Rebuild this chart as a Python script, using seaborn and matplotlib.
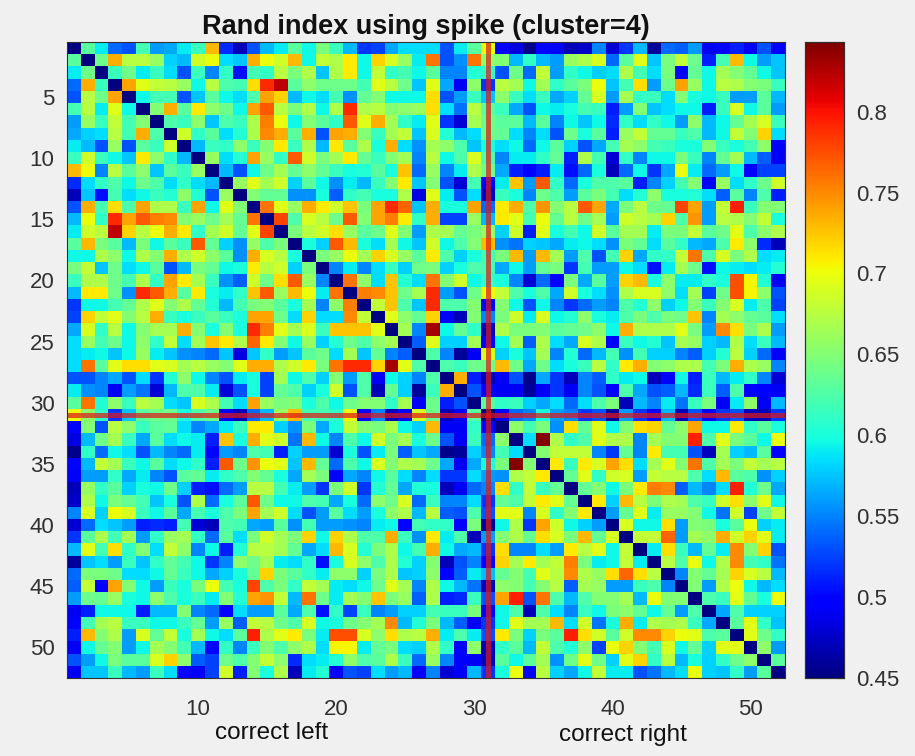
import numpy as np
import pandas as pd
import seaborn as sns
import matplotlib
matplotlib.use("Agg")
import matplotlib.pyplot as plt

# Upper triangle of the symmetric matrix: each list holds row r, columns r+1..52
r01 = [.63,.59,.54,.53,.62,.56,.565,.59,.615,.73,.515,.47,.53,.57,.59,.63,.595,.645,.615,.57,.52,.525,.565,.585,.585,.585,.53,.59,.63,.70,.50,.485,.455,.50,.495,.47,.475,.55,.48,.52,.57,.46,.54,.535,.56,.49,.50,.51,.49,.53,.49]
r02 = [.64,.735,.675,.675,.66,.58,.57,.685,.70,.585,.575,.735,.70,.685,.73,.595,.68,.67,.71,.595,.72,.69,.66,.59,.76,.53,.555,.76,.655,.65,.57,.61,.57,.56,.66,.67,.69,.54,.63,.695,.575,.645,.68,.64,.51,.62,.73,.595,.56,.575]
r03 = [.615,.64,.59,.615,.585,.53,.615,.55,.61,.505,.62,.61,.675,.645,.67,.575,.67,.71,.595,.68,.61,.62,.595,.63,.55,.55,.605,.61,.53,.64,.54,.68,.56,.61,.595,.58,.585,.67,.62,.585,.645,.50,.635,.595,.665,.65,.635,.595,.575]
r04 = [.74,.695,.68,.675,.66,.595,.675,.625,.62,.715,.79,.82,.63,.655,.64,.64,.64,.62,.695,.675,.64,.575,.695,.565,.49,.655,.52,.675,.665,.595,.665,.61,.63,.645,.70,.575,.62,.715,.56,.64,.74,.66,.595,.675,.67,.65,.645,.615]
r05 = [.595,.62,.62,.53,.575,.63,.595,.585,.625,.74,.72,.57,.595,.585,.62,.555,.635,.65,.595,.595,.595,.715,.53,.56,.615,.575,.655,.615,.585,.615,.565,.58,.635,.69,.56,.665,.61,.615,.585,.65,.60,.595,.615,.56,.56,.63,.57]
r06 = [.65,.735,.63,.71,.655,.64,.595,.74,.77,.675,.645,.67,.595,.67,.79,.67,.675,.65,.655,.66,.715,.585,.545,.675,.63,.615,.565,.53,.595,.59,.60,.62,.615,.51,.56,.65,.575,.585,.595,.595,.51,.615,.69,.595,.63,.56]
r07 = [.625,.615,.655,.575,.625,.615,.67,.755,.70,.595,.65,.63,.61,.77,.695,.735,.665,.61,.59,.695,.52,.48,.665,.64,.63,.63,.57,.63,.55,.595,.575,.595,.515,.61,.585,.61,.595,.56,.655,.57,.595,.635,.665,.69,.615]
r08 = [.685,.61,.63,.585,.605,.67,.75,.735,.63,.735,.53,.74,.735,.65,.615,.665,.68,.575,.69,.605,.57,.585,.64,.635,.585,.55,.585,.53,.64,.60,.63,.51,.66,.68,.635,.635,.615,.625,.57,.595,.68,.65,.72,.585]
r09 = [.57,.615,.61,.655,.615,.65,.71,.615,.67,.57,.71,.63,.67,.60,.735,.585,.555,.665,.655,.625,.575,.60,.585,.595,.54,.595,.63,.58,.53,.565,.62,.665,.655,.62,.615,.60,.60,.65,.615,.60,.62,.655,.495]
r10 = [.66,.585,.605,.74,.66,.61,.77,.685,.645,.665,.71,.635,.615,.65,.665,.55,.675,.595,.625,.69,.625,.55,.59,.59,.61,.635,.51,.67,.62,.48,.61,.55,.595,.595,.645,.615,.55,.635,.665,.57,.535,.49]
r11 = [.57,.53,.595,.64,.665,.635,.655,.635,.615,.60,.605,.63,.60,.725,.54,.66,.55,.59,.67,.64,.565,.51,.50,.51,.59,.505,.54,.60,.47,.54,.595,.52,.565,.70,.59,.54,.56,.595,.50,.525,.525]
r12 = [.66,.695,.665,.685,.58,.63,.595,.555,.59,.57,.615,.65,.71,.575,.65,.53,.48,.62,.49,.59,.725,.56,.77,.61,.54,.60,.625,.625,.63,.51,.55,.58,.62,.65,.50,.66,.585,.61,.64,.685]
r13 = [.65,.635,.635,.555,.555,.60,.535,.61,.62,.60,.60,.67,.485,.695,.59,.53,.585,.47,.615,.60,.55,.64,.625,.56,.63,.645,.62,.585,.605,.655,.60,.60,.605,.585,.535,.63,.55,.625,.51]
r14 = [.76,.695,.66,.735,.71,.685,.725,.645,.74,.79,.765,.575,.735,.60,.60,.74,.54,.71,.735,.625,.745,.65,.675,.77,.74,.565,.645,.675,.64,.635,.78,.74,.56,.68,.795,.615,.65,.65]
r15 = [.78,.625,.69,.675,.64,.77,.65,.74,.755,.71,.61,.735,.525,.525,.66,.57,.71,.695,.62,.70,.635,.675,.64,.665,.56,.685,.675,.665,.72,.625,.745,.56,.675,.67,.65,.68,.60]
r16 = [.645,.675,.685,.715,.66,.63,.64,.695,.65,.56,.67,.665,.635,.645,.66,.58,.685,.51,.695,.60,.62,.595,.685,.63,.665,.665,.59,.645,.645,.68,.63,.64,.695,.625,.655,.67]
r17 = [.60,.58,.77,.73,.60,.585,.665,.595,.575,.685,.595,.625,.65,.73,.555,.545,.58,.575,.565,.59,.595,.585,.555,.645,.635,.585,.63,.61,.57,.565,.625,.71,.655,.515,.47]
r18 = [.645,.66,.70,.665,.72,.69,.66,.63,.71,.625,.58,.60,.62,.645,.73,.56,.73,.665,.56,.625,.53,.62,.72,.565,.61,.61,.68,.76,.625,.69,.645,.67,.585,.59]
r19 = [.55,.59,.55,.585,.615,.58,.64,.645,.58,.60,.625,.62,.565,.595,.56,.635,.645,.52,.62,.56,.56,.595,.585,.505,.59,.665,.64,.505,.595,.59,.585,.59,.605]
r20 = [.76,.655,.585,.725,.605,.585,.76,.65,.685,.595,.61,.60,.55,.48,.54,.50,.645,.565,.63,.56,.72,.73,.60,.655,.59,.59,.61,.60,.775,.705,.605,.49]
r21 = [.755,.75,.725,.64,.665,.79,.56,.53,.64,.70,.68,.625,.60,.625,.565,.685,.60,.585,.555,.67,.69,.69,.655,.585,.665,.525,.64,.775,.705,.655,.53]
r22 = [.68,.725,.625,.575,.79,.625,.625,.65,.50,.65,.595,.53,.595,.55,.52,.54,.56,.55,.625,.605,.655,.58,.595,.65,.615,.65,.69,.59,.625,.525]
r23 = [.695,.655,.635,.72,.49,.47,.65,.55,.645,.685,.59,.69,.595,.605,.655,.60,.59,.625,.645,.625,.645,.64,.725,.55,.665,.655,.635,.63,.585]
r24 = [.665,.55,.83,.595,.635,.61,.47,.67,.645,.645,.65,.63,.635,.64,.655,.595,.735,.67,.67,.67,.695,.645,.56,.75,.715,.645,.67,.56]
r25 = [.535,.695,.58,.58,.665,.50,.595,.665,.535,.67,.585,.565,.69,.67,.50,.615,.595,.605,.575,.665,.66,.58,.57,.67,.585,.615,.57]
r26 = [.625,.55,.46,.49,.69,.58,.60,.575,.665,.55,.605,.54,.57,.62,.555,.62,.58,.58,.55,.535,.58,.605,.675,.58,.54,.495]
r27 = [.625,.615,.64,.64,.73,.64,.565,.64,.585,.60,.615,.675,.61,.71,.735,.65,.655,.67,.67,.62,.645,.735,.67,.66,.55]
r28 = [.735,.51,.47,.49,.53,.455,.565,.52,.47,.55,.535,.61,.59,.595,.47,.50,.595,.51,.615,.57,.59,.61,.55,.48]
r29 = [.53,.50,.49,.49,.46,.49,.52,.49,.55,.53,.50,.625,.565,.53,.535,.57,.515,.615,.535,.625,.50,.495,.49]
r30 = [.63,.61,.615,.58,.565,.585,.54,.585,.625,.645,.47,.57,.55,.59,.545,.615,.645,.49,.59,.655,.49,.57]
r31 = [.50,.54,.55,.60,.56,.55,.52,.53,.46,.56,.52,.50,.57,.47,.53,.50,.52,.53,.47,.47,.52]
r32 = [.655,.62,.645,.555,.715,.635,.695,.595,.65,.715,.72,.635,.655,.74,.595,.595,.71,.61,.63,.60]
r33 = [.585,.84,.67,.61,.625,.695,.67,.67,.55,.665,.65,.65,.795,.625,.695,.645,.63,.595,.70]
r34 = [.65,.68,.68,.68,.55,.52,.635,.55,.71,.62,.62,.53,.47,.665,.58,.57,.63,.50]
r35 = [.71,.615,.71,.69,.74,.715,.585,.665,.695,.65,.76,.625,.665,.645,.68,.665,.675]
r36 = [.635,.695,.61,.685,.69,.56,.68,.675,.675,.625,.585,.73,.63,.625,.555,.58]
r37 = [.635,.65,.595,.645,.71,.755,.75,.535,.57,.55,.585,.795,.605,.64,.565]
r38 = [.71,.58,.73,.675,.645,.67,.665,.625,.615,.685,.715,.655,.695,.595]
r39 = [.56,.635,.695,.59,.66,.66,.65,.595,.545,.685,.525,.64,.68]
r40 = [.69,.595,.595,.715,.56,.65,.645,.60,.63,.70,.58,.59]
r41 = [.68,.68,.765,.56,.665,.655,.735,.685,.72,.695,.59]
r42 = [.59,.715,.615,.57,.635,.59,.75,.65,.72,.53]
r43 = [.675,.625,.70,.595,.67,.75,.62,.61,.545]
r44 = [.55,.65,.635,.665,.72,.69,.675,.57]
r45 = [.65,.56,.67,.70,.595,.57,.585]
r46 = [.625,.615,.695,.635,.60,.70]
r47 = [.565,.625,.58,.58,.58]
r48 = [.63,.695,.61,.575]
r49 = [.695,.64,.61]
r50 = [.655,.56]
r51 = [.63]
diagonal_value = 0.45

upper_rows = [r01,r02,r03,r04,r05,r06,r07,r08,r09,r10,r11,r12,r13,r14,r15,r16,r17,
              r18,r19,r20,r21,r22,r23,r24,r25,r26,r27,r28,r29,r30,r31,r32,r33,r34,
              r35,r36,r37,r38,r39,r40,r41,r42,r43,r44,r45,r46,r47,r48,r49,r50,r51]

title_text = "Rand index using spike (cluster=4)"
left_label = "correct left"
right_label = "correct right"
x_ticks = [10, 20, 30, 40, 50]
y_ticks = [5, 10, 15, 20, 25, 30, 35, 40, 45, 50]
cbar_ticks = [0.45, 0.5, 0.55, 0.6, 0.65, 0.7, 0.75, 0.8]
cbar_labels = ["0.45", "0.5", "0.55", "0.6", "0.65", "0.7", "0.75", "0.8"]
marked_trial = 31

n = len(upper_rows) + 1
matrix = np.full((n, n), diagonal_value)
for i, row in enumerate(upper_rows):
    assert len(row) == n - i - 1, (i + 1, len(row))
    matrix[i, i + 1:] = row
    matrix[i + 1:, i] = row
labels = list(range(1, n + 1))
df = pd.DataFrame(matrix, index=labels, columns=labels)

sns.set_theme(style="white")
plt.rcParams["font.family"] = ["Liberation Sans", "DejaVu Sans"]
W, H = 915, 756
BG = "#f0f0f0"
TXT = "#303030"
fig = plt.figure(figsize=(W / 100, H / 100), dpi=100, facecolor=BG)


def box(x0, y0, x1, y1):
    return [x0 / W, 1 - y1 / H, (x1 - x0) / W, (y1 - y0) / H]


ax = fig.add_axes(box(67, 42, 785, 678))
cax = fig.add_axes(box(805, 42, 844, 678))
sns.heatmap(df, ax=ax, cbar_ax=cax, cmap="jet", vmin=0.45, vmax=0.843,
            square=False, xticklabels=False, yticklabels=False, linewidths=0,
            rasterized=True)

ax.set_xticks([t - 0.5 for t in x_ticks])
ax.set_xticklabels(x_ticks)
ax.set_yticks([t - 0.5 for t in y_ticks])
ax.set_yticklabels(y_ticks, rotation=0)
ax.set_xlabel("")
ax.set_ylabel("")
ax.tick_params(axis="both", direction="in", length=5, width=0.8, color=TXT,
               labelcolor=TXT, labelsize=16, bottom=True, left=True,
               top=True, right=True)
ax.tick_params(axis="x", pad=15)
ax.tick_params(axis="y", pad=9)
for s in ax.spines.values():
    s.set_visible(True)
    s.set_color(TXT)
    s.set_linewidth(0.8)

ax.axvline(marked_trial - 0.5, color="#e01818", alpha=0.72, lw=3.6)
ax.axhline(marked_trial - 0.5, color="#e01818", alpha=0.72, lw=3.6)

cax.set_yticks(cbar_ticks)
cax.set_yticklabels(cbar_labels)
cax.tick_params(axis="y", direction="in", length=5, width=0.8, color=TXT,
                labelcolor=TXT, labelsize=16, pad=9, right=True, left=False)
for s in cax.spines.values():
    s.set_visible(True)
    s.set_color(TXT)
    s.set_linewidth(0.8)

fig.text(426 / W, 1 - 27 / H, title_text, ha="center", va="center",
         fontsize=19.5, fontweight="bold", color="#111111")
fig.text(272 / W, 1 - 733 / H, left_label, ha="center", va="center",
         fontsize=17.5, color="#111111")
fig.text(623 / W, 1 - 735 / H, right_label, ha="center", va="center",
         fontsize=17.5, color="#111111")

fig.savefig("out.png", dpi=100, facecolor=BG)
